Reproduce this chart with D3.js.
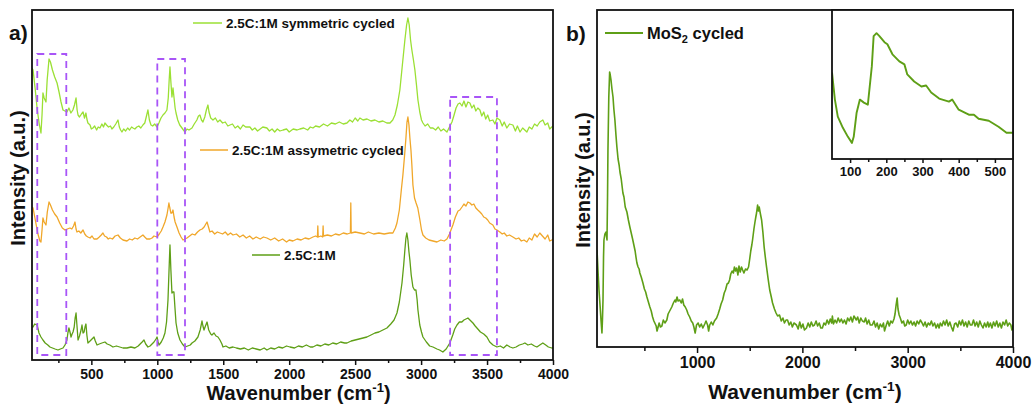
<!DOCTYPE html>
<html>
<head>
<meta charset="utf-8">
<script src="https://cdn.jsdelivr.net/npm/d3@7"></script>
<style>
  body { margin: 0; background: #fff; }
  svg { display: block; font-family: Arial, 'Liberation Sans', sans-serif; }
</style>
</head>
<body>
<div class="d3-wrapper"></div>
<script>
// Raman spectra, [wavenumber (cm-1), intensity (a.u., arbitrary)]
const symmetricCycled = [[50,292],[58,290],[75,270],[90,250],[105,236],[118,227],[126,245],[133,267],[142,262],[156,258],[165,280],[179,301],[190,298],[205,290],[222,283],[240,277],[255,268],[270,258],[285,250],[300,249],[315,248],[330,252],[345,247],[360,250],[372,255],[384,262],[392,250],[399,245],[410,243],[425,246],[437,248],[448,242],[459,247],[466,241],[474,237],[490,235],[500,231],[512,232],[525,234],[540,230],[552,233],[565,232],[580,236],[592,233],[603,237],[615,235],[630,233],[645,234],[656,231],[670,233],[685,236],[702,240],[712,233],[722,230],[732,228],[745,231],[760,229],[775,232],[790,230],[805,233],[816,232],[830,231],[845,233],[860,234],[875,232],[891,235],[905,237],[918,244],[929,250],[940,240],[952,235],[965,234],[980,236],[998,233],[1012,237],[1028,242],[1043,245],[1058,247],[1073,250],[1083,262],[1090,280],[1096,293],[1103,278],[1111,263],[1119,272],[1127,262],[1135,252],[1142,247],[1155,240],[1170,235],[1187,232],[1198,230],[1210,228],[1225,231],[1240,230],[1263,232],[1280,236],[1300,240],[1312,244],[1323,245],[1335,240],[1346,238],[1360,243],[1372,250],[1384,255],[1392,248],[1405,242],[1422,240],[1440,242],[1458,238],[1475,240],[1495,237],[1515,238],[1535,234],[1551,235],[1570,236],[1590,232],[1610,234],[1630,231],[1650,235],[1670,233],[1702,233],[1720,230],[1740,232],[1760,229],[1780,231],[1800,233],[1831,232],[1850,229],[1870,231],[1890,228],[1910,231],[1930,229],[1953,230],[1980,231],[2000,228],[2030,231],[2060,230],[2081,231],[2110,232],[2140,230],[2160,233],[2180,232],[2200,234],[2230,233],[2260,236],[2290,234],[2320,237],[2350,236],[2380,238],[2410,236],[2438,237],[2460,240],[2480,238],[2500,242],[2520,239],[2536,242],[2560,240],[2590,241],[2620,239],[2650,240],[2680,238],[2710,239],[2740,237],[2764,237],[2785,240],[2802,245],[2820,255],[2839,270],[2858,295],[2877,320],[2890,335],[2900,342],[2910,335],[2920,320],[2930,310],[2942,300],[2953,290],[2965,275],[2976,260],[2990,248],[3003,240],[3014,237],[3030,234],[3050,236],[3070,232],[3090,232],[3110,230],[3130,233],[3150,229],[3170,231],[3196,228],[3215,233],[3234,238],[3250,245],[3265,252],[3280,256],[3294,257],[3310,254],[3325,259],[3340,253],[3355,258],[3370,257],[3385,252],[3400,255],[3415,249],[3430,252],[3446,250],[3460,244],[3475,248],[3490,241],[3505,245],[3520,239],[3544,240],[3560,236],[3575,242],[3597,240],[3615,234],[3630,238],[3650,232],[3670,236],[3696,235],[3715,229],[3730,234],[3750,228],[3770,232],[3802,228],[3820,233],[3840,231],[3860,236],[3880,234],[3900,238],[3923,240],[3940,235],[3960,237],[3975,231],[3991,233],[4000,234]];

const asymmetricCycled = [[50,153],[58,152],[75,140],[95,126],[110,119],[118,118],[126,130],[133,142],[142,138],[156,135],[166,148],[179,158],[190,155],[205,150],[222,146],[240,143],[260,137],[280,132],[300,130],[318,131],[338,132],[352,131],[365,134],[376,138],[384,131],[391,128],[405,129],[420,127],[437,130],[450,126],[462,124],[474,123],[490,122],[505,124],[520,121],[543,121],[560,123],[575,125],[588,127],[600,124],[615,123],[628,121],[641,122],[660,121],[680,124],[702,125],[720,122],[740,120],[770,119],[790,121],[810,120],[830,122],[850,121],[870,123],[891,125],[905,123],[920,121],[944,121],[960,122],[975,124],[998,123],[1015,126],[1030,129],[1043,133],[1058,138],[1073,145],[1082,152],[1088,157],[1095,152],[1103,147],[1111,147],[1119,150],[1127,143],[1135,138],[1149,133],[1165,127],[1180,123],[1195,120],[1210,121],[1225,122],[1245,124],[1265,126],[1285,125],[1305,128],[1323,130],[1340,131],[1355,133],[1368,136],[1377,138],[1388,133],[1399,128],[1415,129],[1435,126],[1455,128],[1475,127],[1495,126],[1515,128],[1535,125],[1555,127],[1574,125],[1600,126],[1625,123],[1650,125],[1675,122],[1700,124],[1725,121],[1750,123],[1780,121],[1805,123],[1831,122],[1860,120],[1890,122],[1920,119],[1950,121],[1980,118],[2000,120],[2028,119],[2060,121],[2090,120],[2120,122],[2150,121],[2180,123],[2200,124],[2214,123],[2217,134],[2220,123],[2240,124],[2254,123],[2257,134],[2260,124],[2290,125],[2320,124],[2350,126],[2380,125],[2410,127],[2440,126],[2464,127],[2467,157],[2470,127],[2500,128],[2536,127],[2570,126],[2600,128],[2640,126],[2680,127],[2720,126],[2760,127],[2786,127],[2805,132],[2817,137],[2835,150],[2850,170],[2862,185],[2875,205],[2885,222],[2893,238],[2900,243],[2908,235],[2915,222],[2923,210],[2930,195],[2938,175],[2950,162],[2962,157],[2975,152],[2991,140],[3003,130],[3014,125],[3035,122],[3060,120],[3090,119],[3120,118],[3150,120],[3175,119],[3196,121],[3215,126],[3241,135],[3260,143],[3280,149],[3294,150],[3310,153],[3325,156],[3340,154],[3355,158],[3370,157],[3385,155],[3400,156],[3415,152],[3430,150],[3446,148],[3460,146],[3475,143],[3490,142],[3505,140],[3520,137],[3544,135],[3560,131],[3575,130],[3597,128],[3615,126],[3630,127],[3650,124],[3670,125],[3696,123],[3720,121],[3740,122],[3760,119],[3780,120],[3802,118],[3820,122],[3840,120],[3860,126],[3880,123],[3900,127],[3920,124],[3940,121],[3960,125],[3975,119],[3991,120],[4000,121]];

const pristine = [[50,33],[58,33],[70,36],[88,35],[96,31],[103,27],[118,23],[133,20],[150,17],[170,15],[186,13],[205,12],[225,11],[247,10],[265,11],[285,12],[300,15],[315,20],[322,27],[330,32],[338,28],[346,23],[354,26],[361,28],[370,33],[377,42],[384,47],[390,36],[399,20],[410,24],[422,30],[429,35],[437,27],[445,28],[452,33],[459,36],[466,25],[474,17],[490,19],[505,21],[520,23],[530,19],[543,15],[560,16],[580,17],[603,18],[620,16],[640,15],[664,13],[690,14],[715,13],[740,12],[770,12],[800,13],[830,12],[855,14],[870,16],[885,18],[899,20],[912,16],[929,13],[945,14],[960,16],[975,18],[990,21],[998,23],[1006,18],[1013,15],[1030,18],[1045,22],[1058,27],[1070,38],[1081,60],[1089,90],[1096,115],[1103,90],[1111,67],[1119,68],[1126,68],[1134,52],[1142,37],[1155,27],[1172,20],[1190,16],[1210,13],[1230,14],[1250,15],[1263,17],[1285,19],[1308,23],[1325,30],[1339,39],[1346,34],[1354,30],[1365,34],[1377,38],[1390,30],[1405,26],[1414,25],[1430,27],[1445,24],[1460,23],[1475,20],[1490,16],[1498,13],[1520,14],[1545,12],[1574,13],[1600,12],[1630,11],[1660,12],[1690,10],[1720,12],[1750,11],[1780,10],[1810,12],[1831,10],[1860,12],[1890,11],[1920,13],[1950,12],[1980,14],[2006,13],[2040,12],[2070,14],[2100,13],[2130,15],[2160,13],[2180,13],[2210,15],[2240,14],[2270,16],[2300,15],[2330,17],[2360,16],[2390,18],[2420,17],[2438,17],[2470,19],[2500,20],[2530,21],[2560,22],[2589,23],[2620,25],[2650,27],[2680,28],[2710,30],[2741,32],[2770,36],[2795,40],[2817,47],[2835,58],[2855,77],[2868,95],[2877,110],[2885,122],[2892,127],[2900,120],[2908,108],[2915,100],[2925,85],[2938,73],[2950,70],[2961,70],[2970,60],[2976,50],[2990,35],[3003,28],[3014,23],[3040,18],[3065,14],[3090,13],[3120,11],[3140,10],[3165,8],[3190,11],[3218,17],[3240,25],[3255,31],[3272,35],[3290,38],[3309,38],[3325,40],[3340,41],[3355,42],[3370,40],[3393,37],[3410,34],[3430,31],[3450,28],[3475,26],[3499,23],[3520,18],[3545,15],[3575,13],[3600,14],[3625,12],[3650,15],[3675,13],[3696,12],[3720,13],[3745,15],[3770,16],[3787,17],[3810,15],[3835,16],[3860,14],[3878,13],[3900,15],[3923,17],[3945,15],[3965,13],[3991,12],[4000,12]];

const mos2Cycled = [[50,97],[60,75],[69,57],[80,40],[88,27],[97,14],[102,28],[107,47],[112,90],[116,107],[125,113],[135,115],[145,107],[150,150],[154,197],[162,250],[170,275],[176,272],[183,267],[192,258],[202,250],[210,238],[220,227],[230,212],[239,200],[250,188],[260,182],[268,175],[280,168],[296,154],[306,150],[318,140],[334,135],[348,127],[362,120],[375,114],[388,108],[400,102],[412,96],[420,90],[429,84],[440,80],[450,78],[457,74],[470,70],[486,64],[500,58],[512,55],[524,50],[538,45],[552,40],[565,36],[578,30],[590,26],[599,24],[612,21],[620,16],[628,19],[640,24],[652,20],[666,21],[680,27],[695,24],[713,27],[725,33],[740,36],[760,40],[775,44],[790,47],[798,45],[810,50],[820,46],[836,47],[850,44],[862,48],[874,42],[888,40],[902,37],[915,33],[930,30],[945,26],[959,24],[970,20],[982,14],[995,22],[1010,24],[1025,20],[1040,23],[1055,19],[1073,23],[1085,26],[1100,22],[1110,16],[1120,22],[1135,25],[1150,22],[1165,26],[1186,29],[1200,33],[1215,38],[1228,43],[1243,47],[1258,54],[1270,57],[1285,63],[1298,64],[1309,67],[1320,73],[1333,76],[1345,74],[1355,80],[1366,76],[1376,79],[1388,72],[1398,81],[1410,75],[1422,80],[1433,77],[1445,74],[1460,78],[1475,77],[1489,80],[1500,88],[1510,96],[1520,102],[1527,107],[1540,118],[1550,125],[1558,130],[1565,134],[1575,142],[1582,136],[1590,140],[1600,134],[1613,127],[1625,115],[1637,100],[1648,90],[1660,80],[1675,68],[1690,57],[1705,50],[1717,44],[1735,38],[1750,34],[1765,31],[1783,32],[1800,26],[1815,29],[1830,24],[1845,27],[1859,27],[1875,22],[1890,25],[1905,20],[1920,24],[1944,22],[1960,18],[1975,25],[1990,19],[2005,23],[2020,17],[2039,19],[2055,24],[2070,20],[2085,25],[2100,21],[2115,22],[2130,26],[2145,21],[2160,24],[2175,19],[2190,19],[2205,24],[2220,22],[2235,27],[2250,23],[2265,28],[2278,24],[2285,31],[2295,23],[2310,27],[2325,24],[2340,29],[2355,25],[2370,28],[2385,24],[2399,27],[2415,23],[2430,29],[2445,26],[2460,30],[2475,25],[2490,31],[2512,27],[2525,30],[2540,24],[2555,29],[2570,26],[2588,25],[2600,29],[2615,23],[2630,27],[2645,22],[2664,22],[2680,26],[2695,20],[2710,24],[2725,18],[2740,23],[2755,20],[2770,24],[2780,16],[2797,22],[2810,26],[2825,21],[2840,26],[2855,24],[2870,28],[2880,33],[2890,42],[2900,49],[2908,38],[2919,32],[2930,29],[2945,24],[2960,26],[2972,21],[2986,22],[3000,27],[3015,23],[3030,26],[3045,22],[3061,25],[3075,21],[3090,26],[3105,23],[3120,27],[3137,24],[3150,21],[3165,25],[3180,20],[3195,24],[3210,22],[3225,26],[3240,21],[3255,24],[3270,19],[3285,23],[3298,19],[3310,24],[3325,21],[3340,26],[3355,22],[3370,27],[3385,21],[3400,25],[3415,20],[3430,16],[3445,23],[3459,24],[3475,20],[3490,26],[3505,22],[3520,27],[3535,21],[3550,25],[3565,20],[3580,26],[3595,22],[3610,22],[3625,27],[3640,21],[3655,25],[3670,20],[3685,26],[3700,22],[3715,19],[3730,24],[3745,20],[3760,25],[3771,20],[3785,24],[3800,19],[3815,25],[3830,21],[3845,26],[3860,20],[3875,24],[3890,19],[3905,25],[3920,22],[3935,27],[3950,21],[3965,24],[3980,22],[3990,17],[4000,22]];

const mos2Inset = [[50,86],[58,59],[66,42],[80,31],[94,22],[105,16],[110,22],[118,46],[127,59],[138,56],[149,54],[160,92],[165,122],[173,125],[181,122],[195,116],[203,114],[217,104],[236,97],[250,94],[258,84],[277,77],[297,72],[310,73],[324,66],[346,60],[373,57],[382,59],[400,49],[428,44],[442,44],[455,40],[483,38],[510,32],[532,26],[550,26]];

// Tick values
const ticksA = [500, 1000, 1500, 2000, 2500, 3000, 3500, 4000];
const minorA = [250, 750, 1250, 1750, 2250, 2750, 3250, 3750];
const ticksB = [1000, 2000, 3000, 4000];
const minorB = [500, 1500, 2500, 3500];
const ticksInset = [100, 200, 300, 400, 500];
const minorInset = [150, 250, 350, 450];

// Highlighted regions in panel a: [from, to] wavenumber, top intensity
const boxRanges = [[90, 310], [1000, 1210], [3220, 3575]];
const boxTops = [306, 301, 263];

const COLORS = { sym: '#9be034', asym: '#f0a72a', pristine: '#5e9f16', mos2: '#5e9f16', box: '#a855f7' };

const A = { left: 32, right: 553, top: 10, bottom: 360 };
const B = { left: 597, right: 1013, top: 10, bottom: 347 };
const INSET = { left: 832, right: 1013, top: 10, bottom: 159 };

const svg = d3.select('.d3-wrapper').append('svg')
  .attr('width', 1033)
  .attr('height', 404);

const xA = d3.scaleLinear().domain([50, 4000]).range([A.left, A.right]);
const yA = d3.scaleLinear().domain([0, 350]).range([A.bottom, A.top]);
const xB = d3.scaleLinear().domain([50, 4000]).range([B.left, B.right]);
const yB = d3.scaleLinear().domain([0, 337]).range([B.bottom, B.top]);
const xI = d3.scaleLinear().domain([50, 550]).range([INSET.left, INSET.right]);
const yI = d3.scaleLinear().domain([0, 148]).range([INSET.bottom, INSET.top]);

const clip = (id, box) => svg.append('clipPath').attr('id', id)
  .append('rect')
  .attr('x', box.left).attr('y', box.top)
  .attr('width', box.right - box.left).attr('height', box.bottom - box.top);
clip('clipA', A);
clip('clipB', B);
clip('clipI', INSET);

function drawAxis(x, y0, major, minor, fontSize, majorLen, minorLen) {
  svg.append('g')
    .attr('transform', `translate(0, ${y0})`)
    .call(d3.axisBottom(x).tickValues(minor).tickSize(minorLen).tickSizeOuter(0).tickFormat(''))
    .call(g => g.select('.domain').remove())
    .call(g => g.selectAll('line').attr('stroke', '#111').attr('stroke-width', 1.5));
  svg.append('g')
    .attr('transform', `translate(0, ${y0})`)
    .call(d3.axisBottom(x).tickValues(major).tickSize(majorLen).tickSizeOuter(0).tickPadding(4).tickFormat(d3.format('d')))
    .call(g => g.select('.domain').remove())
    .call(g => g.selectAll('line').attr('stroke', '#111').attr('stroke-width', 1.5))
    .call(g => g.selectAll('text')
      .attr('fill', '#111')
      .style('font-family', "Arial, 'Liberation Sans', sans-serif")
      .style('font-weight', 'bold')
      .style('font-size', fontSize + 'px'));
}

function drawLine(data, x, y, color, width, clipId) {
  svg.append('path')
    .datum(data)
    .attr('clip-path', `url(#${clipId})`)
    .attr('fill', 'none')
    .attr('stroke', color)
    .attr('stroke-width', width)
    .attr('stroke-linejoin', 'round')
    .attr('d', d3.line().x(d => x(d[0])).y(d => y(d[1])));
}

function frame(box) {
  svg.append('rect')
    .attr('x', box.left).attr('y', box.top)
    .attr('width', box.right - box.left).attr('height', box.bottom - box.top)
    .attr('fill', 'none')
    .attr('stroke', '#111')
    .attr('stroke-width', 1.8);
}

function legend(x1, y, color, label, fontSize, width, len) {
  svg.append('line')
    .attr('x1', x1).attr('x2', x1 + len).attr('y1', y).attr('y2', y)
    .attr('stroke', color).attr('stroke-width', width);
  return svg.append('text')
    .attr('x', x1 + len + 4).attr('y', y + fontSize * 0.36)
    .attr('font-weight', 'bold')
    .attr('font-size', fontSize)
    .attr('fill', '#111')
    .text(label);
}

function xTitle(cx, y, size) {
  const t = svg.append('text')
    .attr('x', cx).attr('y', y)
    .attr('text-anchor', 'middle')
    .attr('font-weight', 'bold')
    .attr('font-size', size)
    .attr('fill', '#111');
  t.append('tspan').text('Wavenumber (cm');
  t.append('tspan').attr('dy', -size * 0.4).attr('font-size', size * 0.65).text('-1');
  t.append('tspan').attr('dy', size * 0.4).text(')');
}

function yTitle(x, cy, size) {
  svg.append('text')
    .attr('transform', `translate(${x}, ${cy}) rotate(-90)`)
    .attr('text-anchor', 'middle')
    .attr('font-weight', 'bold')
    .attr('font-size', size)
    .attr('fill', '#111')
    .text('Intensity (a.u.)');
}

// ---- panel a ----
drawLine(symmetricCycled, xA, yA, COLORS.sym, 1.3, 'clipA');
drawLine(asymmetricCycled, xA, yA, COLORS.asym, 1.3, 'clipA');
drawLine(pristine, xA, yA, COLORS.pristine, 1.3, 'clipA');

boxRanges.forEach((r, i) => {
  svg.append('rect')
    .attr('x', xA(r[0])).attr('y', yA(boxTops[i]))
    .attr('width', xA(r[1]) - xA(r[0]))
    .attr('height', yA(5) - yA(boxTops[i]))
    .attr('fill', 'none')
    .attr('stroke', COLORS.box)
    .attr('stroke-width', 1.8)
    .attr('stroke-dasharray', '7,5');
});

frame(A);
drawAxis(xA, A.bottom, ticksA, minorA, 14, 5, 3);
xTitle((A.left + A.right) / 2 + 6, 400, 20);
yTitle(25, 178, 20);

legend(193, 23, COLORS.sym, '2.5C:1M symmetric cycled', 13.5, 1.5, 29);
legend(200, 150, COLORS.asym, '2.5C:1M assymetric cycled', 13.5, 1.5, 28);
legend(252, 255, COLORS.pristine, '2.5C:1M', 13.5, 1.5, 28);

svg.append('text')
  .attr('x', 9).attr('y', 40)
  .attr('font-weight', 'bold').attr('font-size', 21).attr('fill', '#111')
  .text('a)');

// ---- panel b ----
drawLine(mos2Cycled, xB, yB, COLORS.mos2, 1.6, 'clipB');
frame(B);
drawAxis(xB, B.bottom, ticksB, minorB, 16, 6, 4);
xTitle((B.left + B.right) / 2, 399, 21);
yTitle(590, 180, 20);

const lg = legend(605, 33, COLORS.mos2, '', 16.5, 2, 38);
lg.append('tspan').text('MoS');
lg.append('tspan').attr('dy', 4).attr('font-size', 11).text('2');
lg.append('tspan').attr('dy', -4).text(' cycled');

svg.append('text')
  .attr('x', 566).attr('y', 41)
  .attr('font-weight', 'bold').attr('font-size', 21).attr('fill', '#111')
  .text('b)');

// ---- inset ----
svg.append('rect')
  .attr('x', INSET.left).attr('y', INSET.top)
  .attr('width', INSET.right - INSET.left).attr('height', INSET.bottom - INSET.top)
  .attr('fill', '#fff');
drawLine(mos2Inset, xI, yI, COLORS.mos2, 1.9, 'clipI');
frame(INSET);
drawAxis(xI, INSET.bottom, ticksInset, minorInset, 13, 4, 3);
</script>
</body>
</html>
